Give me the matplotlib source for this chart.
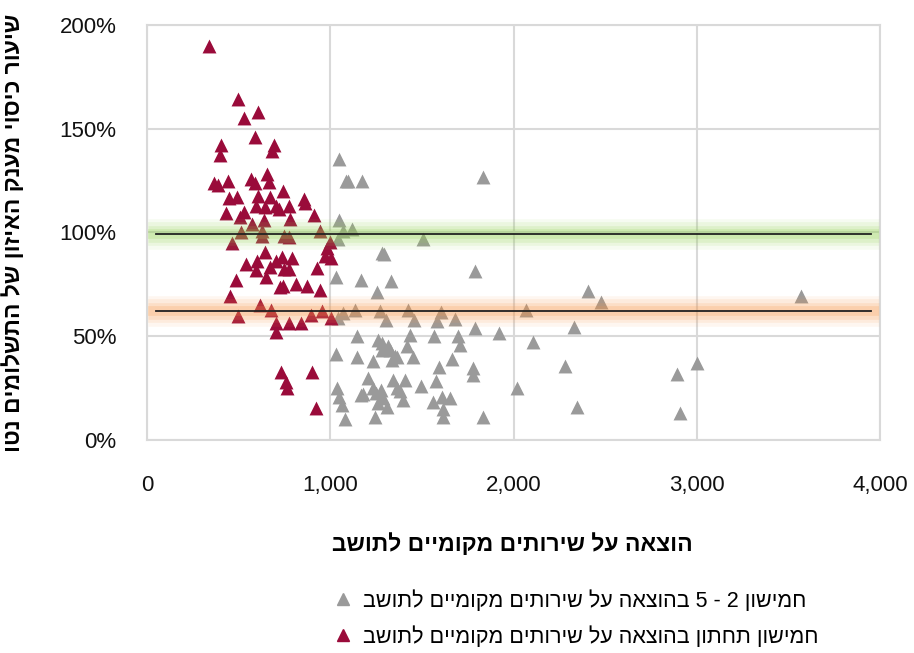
import matplotlib
matplotlib.use("Agg")
import matplotlib.pyplot as plt
from matplotlib.ticker import FuncFormatter
from matplotlib.lines import Line2D

# ---------------- data ----------------
red_x = [338, 495, 604, 531, 589, 402, 397, 693, 684, 366, 389, 444, 566, 591, 655,
         666, 741, 446, 491, 604, 670, 855, 864, 595, 642, 706, 719, 773, 431, 508,
         531, 638, 780, 910, 573, 511, 629, 628, 749, 773, 944, 464, 999, 981, 970,
         1002, 646, 540, 600, 595, 670, 704, 737, 791, 748, 777, 651, 929, 484, 726,
         742, 815, 875, 944, 453, 617, 675, 498, 897, 957, 1006, 702, 702, 773, 840,
         730, 759, 762, 900, 921]
red_y = [189.9, 164.3, 158.1, 155.2, 145.9, 142.4, 137.5, 142.4, 139.1, 123.7, 123.0, 124.8, 125.6, 123.7, 128.2,
         124.5, 120.0, 116.6, 117.2, 117.5, 117.2, 116.3, 114.0, 113.0, 112.1, 112.7, 111.5, 112.7, 109.2, 107.6,
         109.8, 105.9, 106.6, 108.2, 104.3, 100.3, 100.6, 98.2, 98.1, 97.7, 100.6, 94.7, 95.5, 92.6, 88.6,
         87.8, 90.5, 84.9, 86.1, 82.1, 83.2, 86.1, 88.1, 87.8, 82.6, 82.6, 78.4, 82.9, 77.2, 73.6,
         74.1, 75.4, 74.1, 72.3, 69.2, 65.2, 62.8, 59.9, 60.4, 62.0, 58.8, 56.2, 52.0, 56.2, 56.2,
         32.7, 27.9, 25.0, 33.0, 15.6]

gray_x = [1049, 1086, 1098, 1173, 1832, 1049, 1071, 1117, 1041, 1508, 1281, 1293, 1788, 1031, 1166,
          1333, 1257, 1068, 1044, 1135, 1271, 1304, 1426, 1459, 1603, 1581, 1682, 2070, 1788, 1923,
          2105, 1148, 1262, 1435, 1568, 1696, 1708, 1031, 1144, 1235, 1281, 1326, 1317, 1281, 1363,
          1335, 1417, 1453, 1663, 1595, 1777, 1781, 1038, 1049, 1062, 1080, 1168, 1208, 1232, 1250,
          1275, 1262, 1308, 1244, 1344, 1363, 1410, 1399, 1494, 1577, 1562, 1608, 1653, 1617, 1614,
          1835, 2017, 2332, 2283, 2345, 2408, 2476, 2891, 3000, 2909, 3567, 1177, 1286, 1381, 1353]
gray_y = [135.3, 124.8, 124.8, 124.8, 126.9, 105.9, 100.5, 101.8, 97.0, 97.0, 90.2, 89.4, 81.3, 78.6, 77.3,
          76.8, 71.2, 61.2, 58.8, 62.8, 62.0, 58.0, 62.5, 58.0, 61.5, 57.2, 58.3, 62.5, 53.8, 51.8,
          47.0, 50.2, 48.3, 50.7, 49.9, 49.9, 45.7, 41.5, 40.0, 38.3, 43.5, 43.5, 45.1, 46.7, 40.2,
          38.6, 45.1, 40.2, 39.0, 35.4, 34.6, 31.4, 25.0, 20.9, 16.9, 10.0, 21.7, 29.8, 25.0, 22.6,
          24.2, 17.7, 16.1, 11.3, 29.0, 25.0, 29.0, 19.3, 25.8, 28.2, 18.5, 20.9, 20.1, 15.0, 11.3,
          11.0, 25.0, 54.4, 35.7, 16.1, 72.0, 66.5, 31.7, 37.1, 13.2, 69.2, 22.0, 20.1, 23.7, 40.7]

ref_green = 99.3
ref_orange = 62.3
ref_x = [50, 3950]

x_ticks = [0, 1000, 2000, 3000, 4000]
y_ticks = [0, 50, 100, 150, 200]

label_gray = "חמישון 2 - 5 בהוצאה על שירותים מקומיים לתושב"
label_red = "חמישון תחתון בהוצאה על שירותים מקומיים לתושב"
x_title = "הוצאה על שירותים מקומיים לתושב"
y_title = "שיעור כיסוי מענק האיזון של התשלומים נטו"


def vis(s):
    # visual order for right-to-left text
    return s[::-1]


FONT = ['Liberation Sans', 'DejaVu Sans']
plt.rcParams['font.family'] = FONT

fig = plt.figure(figsize=(9.14, 6.53), dpi=100)
ax = fig.add_axes([147 / 914, 1 - 440 / 653, (880 - 147) / 914, (440 - 25) / 653])

RED = '#9a0b3a'
GRAY = '#9a9a9a'
ms = 100
ax.scatter(gray_x, gray_y, marker='^', s=ms, color=GRAY, linewidths=0, zorder=2)
ax.scatter(red_x, red_y, marker='^', s=ms, color=RED, linewidths=0, zorder=2)

# glowing reference lines
for yv, col in [(ref_green, '#92d050'), (ref_orange, '#f79646')]:
    for lw, a in [(22, 0.08), (17, 0.11), (12, 0.15), (7, 0.2)]:
        ax.plot([5, 3995], [yv, yv], color=col, lw=lw, alpha=a,
                solid_capstyle='butt', zorder=3)
    ax.plot(ref_x, [yv, yv], color='#222222', lw=1.3, zorder=4)

ax.set_xlim(0, 4000)
ax.set_ylim(0, 200)
ax.set_xticks(x_ticks)
ax.set_yticks(y_ticks)
ax.xaxis.set_major_formatter(FuncFormatter(lambda v, p: f"{v:,.0f}"))
ax.yaxis.set_major_formatter(FuncFormatter(lambda v, p: f"{v:.0f}%"))
ax.grid(True, color='#d9d9d9', lw=1.5, zorder=0)
ax.set_axisbelow(True)
for sp in ax.spines.values():
    sp.set_color('#d9d9d9')
    sp.set_linewidth(1.5)
ax.tick_params(length=0, labelsize=16, colors='#111111')
ax.tick_params(axis='y', pad=22)
ax.tick_params(axis='x', pad=25)

ax.set_xlabel(vis(x_title), fontsize=16.5, fontweight='bold')
ax.xaxis.set_label_coords(0.498, -0.224)
ax.set_ylabel(vis(y_title), fontsize=16.5, fontweight='bold', rotation=90)
ax.yaxis.set_label_coords(-0.166, 0.5)

handles = [Line2D([], [], marker='^', ls='none', color=GRAY, markersize=8),
           Line2D([], [], marker='^', ls='none', color=RED, markersize=8)]
fig.legend(handles, [vis(label_gray), vis(label_red)], loc='center left',
           bbox_to_anchor=(324 / 914, 1 - 619 / 653), frameon=False, fontsize=15.5,
           handlelength=0.8, handletextpad=0.5, borderpad=0, labelspacing=0.65)

fig.savefig('out.png', dpi=100)
